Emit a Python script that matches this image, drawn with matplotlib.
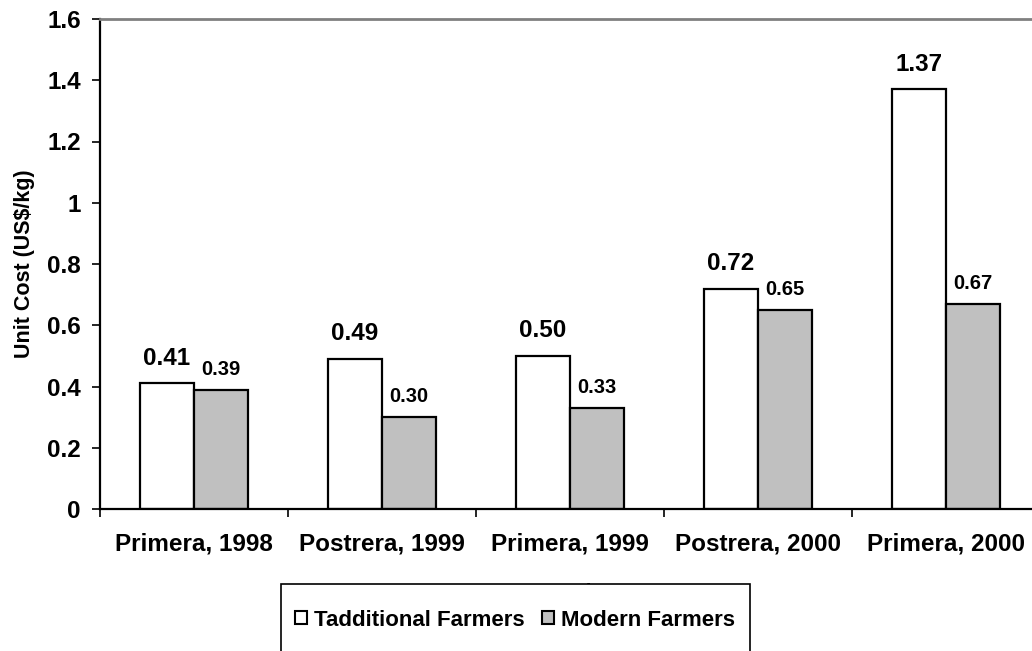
import numpy as np
import matplotlib
matplotlib.use('Agg')
from matplotlib import pyplot as plt
from matplotlib.patches import Patch, Rectangle

plt.rcParams['font.family'] = ['Liberation Sans', 'DejaVu Sans']
plt.rcParams['font.weight'] = 'bold'

# data
seasons = ['Primera, 1998', 'Postrera, 1999', 'Primera, 1999', 'Postrera, 2000', 'Primera, 2000']
traditional = [0.41, 0.49, 0.50, 0.72, 1.37]
modern = [0.39, 0.30, 0.33, 0.65, 0.67]
series_names = ['Tadditional Farmers', 'Modern Farmers']
yticks = [0, 0.2, 0.4, 0.6, 0.8, 1.0, 1.2, 1.4, 1.6]

W, H = 1032, 651
fig = plt.figure(figsize=(W/100, H/100), dpi=100)
# axes runs a little past the right edge, like the original
ax = fig.add_axes([100/W, 142/H, 940/W, 490/H])

x = np.arange(len(seasons))
w = 0.287
ax.bar(x - w/2, traditional, w, color='white', edgecolor='black', linewidth=1.6, zorder=2)
ax.bar(x + w/2, modern, w, color='#C0C0C0', edgecolor='black', linewidth=1.6, zorder=2)

for xi, v in zip(x, traditional):
    ax.annotate(f'{v:.2f}', (xi - w/2, v), xytext=(0, 13.5), textcoords='offset points',
                ha='center', va='baseline', fontsize=17.5, fontweight='bold')
for xi, v in zip(x, modern):
    ax.annotate(f'{v:.2f}', (xi + w/2, v), xytext=(0, 10.8), textcoords='offset points',
                ha='center', va='baseline', fontsize=14.5, fontweight='bold')

ax.set_xlim(-0.5, len(seasons) - 0.5)
ax.set_ylim(0, 1.6)
ax.set_yticks(yticks, ['%g' % t for t in yticks])
ax.set_xticks(x, seasons)
ax.set_xticks(np.arange(-0.5, len(seasons), 1.0), minor=True)
ax.tick_params(axis='x', which='major', length=0, labelsize=17.5, pad=17)
ax.tick_params(axis='x', which='minor', length=5.8, width=1.2, direction='out')
ax.tick_params(axis='y', length=5.8, width=1.2, labelsize=17.5, pad=8)

ax.spines['right'].set_visible(False)
ax.spines['top'].set_color('#808080')
ax.spines['top'].set_linewidth(2)
ax.spines['left'].set_linewidth(1.6)
ax.spines['bottom'].set_linewidth(1.6)

ax.set_ylabel('Unit Cost (US$/kg)', fontsize=15.5, fontweight='bold', labelpad=9)
ax.set_xlabel('Season/Year', fontsize=17.5, fontweight='bold', labelpad=19.5)

# legend box sits over the x label and runs off the bottom
fig.add_artist(Rectangle((281/W, -0.05), (750 - 281)/W, (H - 584)/H + 0.05,
                         transform=fig.transFigure, facecolor='white',
                         edgecolor='black', linewidth=1.2, zorder=3))
handles = [Patch(facecolor='white', edgecolor='black', linewidth=1.5),
           Patch(facecolor='#C0C0C0', edgecolor='black', linewidth=1.5)]
fig.legend(handles, series_names, loc='center', bbox_to_anchor=(515/W, (H - 620)/H),
           ncol=2, frameon=False, handlelength=0.55, handleheight=0.55,
           handletextpad=0.3, columnspacing=0.8, prop={'size': 16, 'weight': 'bold'})

fig.savefig('out.png', dpi=100)
